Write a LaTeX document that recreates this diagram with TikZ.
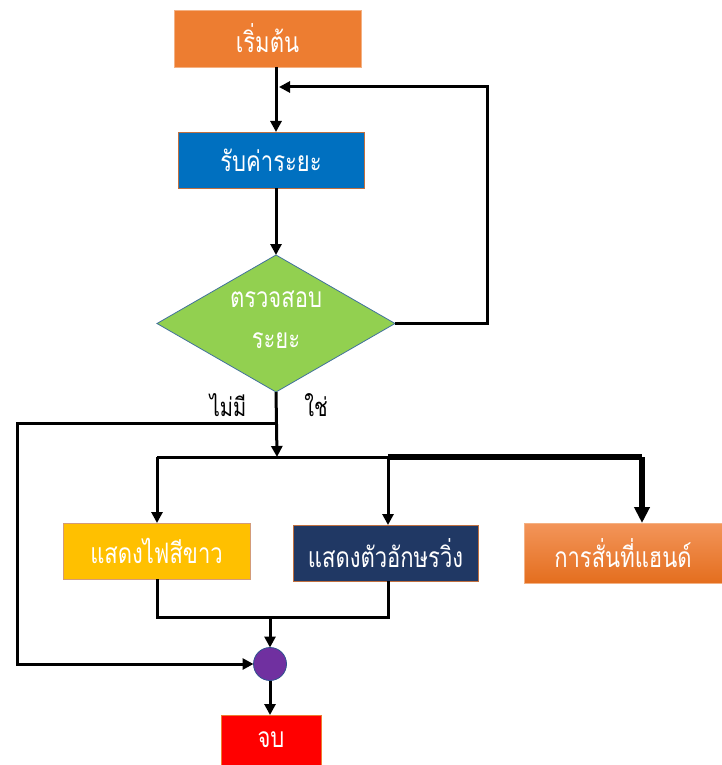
\documentclass[tikz,border=0pt]{standalone}
\usepackage{fontspec}
\usepackage{graphicx}
\setmainfont[Script=Thai]{Loma}
\usetikzlibrary{shapes.geometric,arrows.meta}
\definecolor{cStart}{HTML}{ED7D31}
\definecolor{cStartB}{HTML}{F4B183}
\definecolor{cBlue}{HTML}{0070C0}
\definecolor{cBrown}{HTML}{C07040}
\definecolor{cGreen}{HTML}{92D050}
\definecolor{cGreenB}{HTML}{41719C}
\definecolor{cYellow}{HTML}{FFC000}
\definecolor{cNavy}{HTML}{203864}
\definecolor{cOrTop}{HTML}{F3955A}
\definecolor{cOrBot}{HTML}{E46E1E}
\definecolor{cPurple}{HTML}{7030A0}
\definecolor{cPurpleB}{HTML}{2F528F}
\definecolor{cRed}{HTML}{FF0000}
\newcommand\tallTx[1]{\scalebox{1}[1.28]{#1}}
\tikzset{
  box/.style={draw=cBrown, line width=0.8pt, rectangle, inner sep=0pt, outer sep=0pt,
    text=white, font=\fontsize{22}{26}\selectfont},
  conn/.style={draw=black, line width=3pt},
  arr/.style={conn, -{Triangle[length=11pt,width=11pt]}},
  bigarr/.style={draw=black, line width=5.5pt, -{Triangle[length=16pt,width=15pt]}},
  lbl/.style={text=black, font=\fontsize{20}{24}\selectfont, inner sep=0pt},
}
\begin{document}
\begin{tikzpicture}[x=1pt,y=-1pt]
\useasboundingbox (0,0) rectangle (721,765);
% nodes
\node[box, fill=cStart, draw=cStartB, minimum width=187pt, minimum height=57pt] (start) at (267.5,38.5) {\tallTx{เริ่มต้น}};
\node[box, fill=cBlue, minimum width=186pt, minimum height=56pt] (recv) at (271,160) {\tallTx{รับค่าระยะ}};
\node[draw=cGreenB, line width=0.8pt, fill=cGreen, diamond, inner sep=0pt, outer sep=0pt,
  minimum width=238pt, minimum height=137pt, aspect=1.74] (diam) at (276,323.5) {};
\node[text=white, font=\fontsize{22}{26}\selectfont] (dt1) at (276,299) {\tallTx{ตรวจสอบ}};
\node[text=white, font=\fontsize{22}{26}\selectfont] (dt2) at (276,341) {\tallTx{ระยะ}};
\node[box, fill=cYellow, draw=cBrown!70, minimum width=187pt, minimum height=56pt] (white) at (156.5,551) {\tallTx{แสดงไฟสีขาว}};
\node[box, fill=cNavy, minimum width=185pt, minimum height=56pt] (run) at (385.5,553) {\tallTx{แสดงตัวอักษรวิ่ง}};
\node[box, top color=cOrTop, bottom color=cOrBot, draw=cStartB, minimum width=198pt, minimum height=60pt] (vib) at (623,553) {\tallTx{การสั่นที่แฮนด์}};
\node[circle, fill=cPurple, draw=cPurpleB, line width=0.8pt, minimum size=33pt, inner sep=0pt, outer sep=0pt] (junc) at (270,664) {};
\node[box, fill=cRed, draw=cStart, minimum width=100pt, minimum height=50pt] (end) at (271,740) {\tallTx{จบ}};
\node[lbl] (no) at (228,405) {\tallTx{ไม่มี}};
\node[lbl] (yes) at (316,405) {\tallTx{ใช่}};
% coordinates
\coordinate (loopR) at (487,87);
\coordinate (loopIn) at (279,87);
\coordinate (split) at (277,457);
\coordinate (noStart) at (277,423);
\coordinate (noL) at (17,423);
\coordinate (hL) at (157,457);
\coordinate (hM) at (388,457);
\coordinate (hR) at (642,457);
\coordinate (mL) at (157,617);
\coordinate (mR) at (388,617);
\coordinate (mC) at (270,617);
% connectors
\draw[arr] (start.south -| diam) -- (recv.north -| diam);
\draw[arr] (recv.south -| diam) -- (diam.north);
\draw[arr] (diam.east) -| (loopR) -- (loopIn);
\draw[arr] (diam.south) -- (split);
\draw[arr] (noStart) -- (noL) |- (junc.west);
\draw[conn] (hL) -- (hM);
\draw[draw=black, line width=5.5pt] (hM) -- (hR);
\draw[arr] (hL) -- (white.north -| hL);
\draw[arr] (hM) -- (run.north -| hM);
\draw[bigarr] (hR) -- (vib.north -| hR);
\draw[conn] (white.south -| mL) -- (mL) -- (mR) -- (run.south -| mR);
\draw[arr] (mC) -- (junc.north);
\draw[arr] (junc.south) -- (end.north -| junc);
\end{tikzpicture}
\end{document}
